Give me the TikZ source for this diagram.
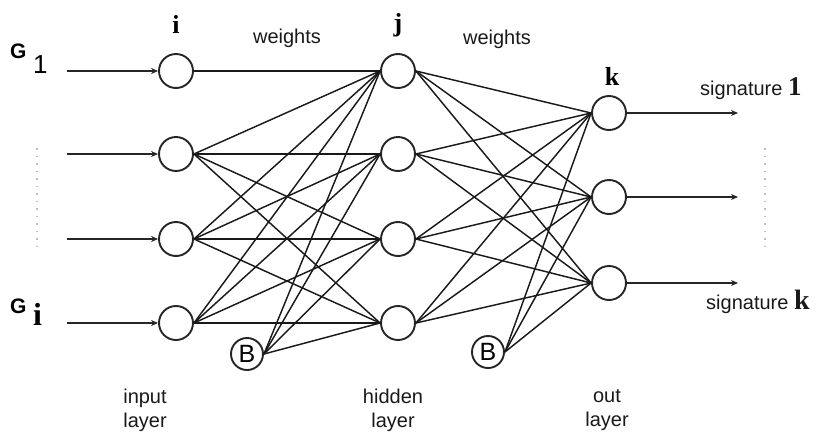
\documentclass[tikz,border=0pt]{standalone}
\usepackage{fontspec}
\setmainfont{Liberation Sans}
\newfontfamily\serifb{Liberation Serif}
\usetikzlibrary{arrows.meta}
\begin{document}
\begin{tikzpicture}[x=1pt,y=-1pt,
  neuron/.style={circle,draw=black!85,line width=1.9pt,minimum size=34pt,inner sep=0pt},
  bias/.style={circle,draw=black!85,line width=1.9pt,minimum size=32pt,inner sep=0pt,font=\fontsize{25}{25}\selectfont},
  conn/.style={draw=black!90,line width=1.45pt},
  inarr/.style={draw=black!85,line width=1.7pt,-{Stealth[length=7pt,width=6pt]}},
  lbl/.style={font=\fontsize{20}{24}\selectfont,text=black!90},
  idx/.style={font=\serifb\bfseries\fontsize{26}{26}\selectfont},
  dots/.style={draw=black!25,line width=1.6pt,dash pattern=on 1.5pt off 6pt}]
\useasboundingbox (0,0) rectangle (823,437);
% input layer
\node[neuron] (i1) at (176,71) {};
\node[neuron] (i2) at (176,154) {};
\node[neuron] (i3) at (176,239) {};
\node[neuron] (i4) at (176,323) {};
% hidden layer
\node[neuron] (h1) at (398,71) {};
\node[neuron] (h2) at (398,154) {};
\node[neuron] (h3) at (398,239) {};
\node[neuron] (h4) at (398,323) {};
% output layer
\node[neuron] (k1) at (609,113) {};
\node[neuron] (k2) at (609,197) {};
\node[neuron] (k3) at (609,283) {};
% bias
\node[bias] (b1) at (247,354) {B};
\node[bias] (b2) at (488,352) {B};
% input -> hidden
\draw[conn] (i1.east) -- (h1.west);
\foreach \s in {i2,i3,i4,b1}{
  \foreach \t in {h1,h2,h3,h4}{
    \draw[conn] (\s.east) -- (\t.west);
  }
}
% hidden -> output
\foreach \s in {h1,h2,h3,h4,b2}{
  \foreach \t in {k1,k2,k3}{
    \draw[conn] (\s.east) -- (\t.west);
  }
}
% input arrows
\coordinate (a1) at (67,71);
\coordinate (a2) at (67,154);
\coordinate (a3) at (67,239);
\coordinate (a4) at (67,323);
\foreach \n in {1,2,3,4}{\draw[inarr] (a\n) -- (i\n.west);}
% output arrows
\coordinate (o1) at (738,113);
\coordinate (o2) at (738,197);
\coordinate (o3) at (738,283);
\foreach \n in {1,2,3}{\draw[inarr] (k\n.east) -- (o\n);}
% dotted ellipses
\coordinate (dl1) at (37,148);
\coordinate (dl2) at (37,250);
\coordinate (dr1) at (765,148);
\coordinate (dr2) at (765,248);
\draw[dots] (dl1) -- (dl2);
\draw[dots] (dr1) -- (dr2);
% labels
\node[idx] (li) at (176,24) {i};
\node[idx] (lj) at (398,25) {j};
\node[idx] (lk) at (612,76) {k};
\node[lbl] (w1) at (287,38) {weights};
\node[lbl] (w2) at (497,39) {weights};
\node[anchor=base west,inner sep=0pt] (g1) at (10,58) {\fontsize{21}{21}\selectfont\bfseries G};
\node[anchor=base west,inner sep=0pt] (g1s) at (33,73) {\fontsize{26}{26}\selectfont 1};
\node[anchor=base west,inner sep=0pt] (gi) at (10,313) {\fontsize{21}{21}\selectfont\bfseries G};
\node[anchor=base west,inner sep=0pt] (gis) at (33,325) {\serifb\bfseries\fontsize{32}{32}\selectfont i};
\node[lbl,anchor=base west,inner sep=0pt] (s1) at (700,95) {signature \serifb\bfseries\fontsize{27}{27}\selectfont 1};
\node[lbl,anchor=base west,inner sep=0pt] (sk) at (706,309) {signature \serifb\bfseries\fontsize{28}{28}\selectfont k};
\node[lbl,align=center] (l1) at (145,410) {input\\layer};
\node[lbl,align=center] (l2) at (393,410) {hidden\\layer};
\node[lbl,align=center] (l3) at (607,410) {out\\layer};
\end{tikzpicture}
\end{document}
